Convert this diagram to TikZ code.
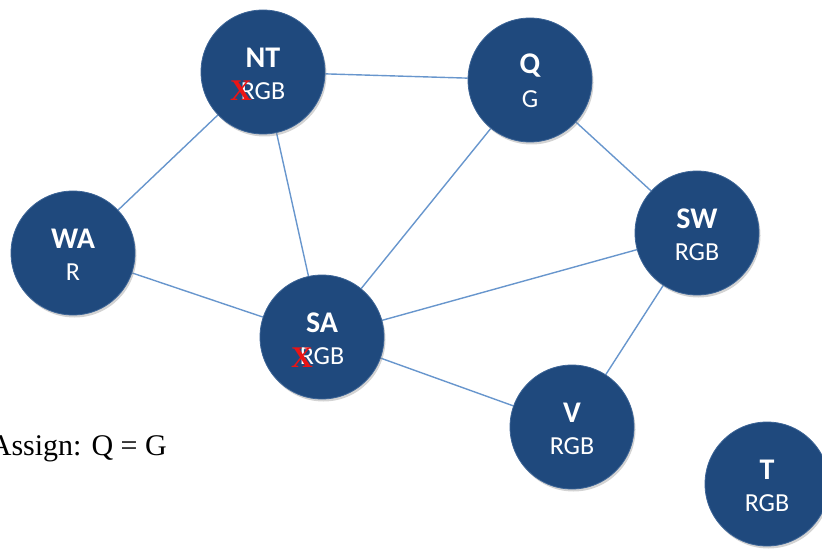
\documentclass[tikz,border=0pt]{standalone}
\usepackage{fontspec}
\setmainfont{Carlito}
\newfontfamily\serifx{Liberation Serif}
\usetikzlibrary{shadows,backgrounds}
\definecolor{nodeblue}{RGB}{31,73,125}
\definecolor{rimblue}{RGB}{60,100,150}
\definecolor{edgeblue}{RGB}{104,150,205}
\definecolor{xred}{RGB}{235,20,20}
\begin{document}
\begin{tikzpicture}[x=1pt,y=1pt,
  state/.style={circle,minimum size=124pt,inner sep=0pt,fill=nodeblue,draw=rimblue,line width=0.8pt,
    drop shadow={opacity=0.35,shadow xshift=1.5pt,shadow yshift=-2.5pt}},
  ttl/.style={text=white,font=\fontsize{30}{32}\selectfont\bfseries,inner sep=0pt},
  sub/.style={text=white,font=\fontsize{26}{28}\selectfont,inner sep=0pt},
  xmark/.style={text=xred,font=\serifx\fontsize{30}{30}\selectfont\bfseries,inner sep=0pt},
  edge/.style={draw=edgeblue,line width=1.4pt}]
\useasboundingbox (0,0) rectangle (822,550);
\node[state] (NT) at (263,478) {};
\node[state] (Q) at (530,470) {};
\node[state] (WA) at (73,297) {};
\node[state] (SW) at (697,317) {};
\node[state] (SA) at (322,213) {};
\node[state] (V) at (572,123) {};
\node[state] (T) at (767,66) {};
\begin{scope}[on background layer]
\draw[edge] (NT) -- (Q);
\draw[edge] (NT) -- (WA);
\draw[edge] (NT) -- (SA);
\draw[edge] (Q) -- (SA);
\draw[edge] (Q) -- (SW);
\draw[edge] (WA) -- (SA);
\draw[edge] (SA) -- (SW);
\draw[edge] (SA) -- (V);
\draw[edge] (SW) -- (V);
\end{scope}
\foreach \n/\t/\s in {NT/NT/RGB,Q/Q/G,WA/WA/R,SW/SW/RGB,SA/SA/RGB,V/V/RGB,T/T/RGB}{
  \node[ttl] (\n-t) at ([yshift=14pt]\n.center) {\t};
  \node[sub] (\n-s) at ([yshift=-19pt]\n.center) {\s};
}
\node[xmark] (NTx) at ([xshift=-22pt,yshift=-19pt]NT.center) {X};
\node[xmark] (SAx) at ([xshift=-20pt,yshift=-20.5pt]SA.center) {X};
\node[anchor=base east,inner sep=0pt,font=\serifx\fontsize{30}{32}\selectfont] (assign) at (167,95) {Assign: Q = G};
\end{tikzpicture}
\end{document}
